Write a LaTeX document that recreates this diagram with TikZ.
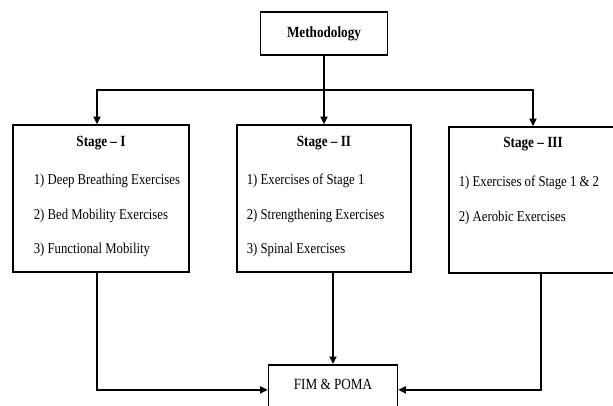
\documentclass[tikz,border=0pt]{standalone}
\usepackage{fontspec}
\setmainfont{Liberation Serif}[FakeStretch=0.85]
\usetikzlibrary{arrows.meta}

\tikzset{
	box/.style={draw, rectangle, inner sep=0pt},
	title/.style={font=\bfseries\fontsize{15.5}{18}\selectfont},
	items/.style={anchor=north west, align=left, inner sep=0pt, font=\fontsize{15}{34.5}\selectfont}
}

\begin{document}
\begin{tikzpicture}[x=1pt, y=-1pt, line width=1.7pt, >={Triangle[width=7pt,length=7.5pt]}]
	\useasboundingbox (0,0) rectangle (613,405);
	\clip (0,0) rectangle (613,405);

	\node[box, title, minimum width=127pt, minimum height=43pt] (meth) at (324,33.5) {Methodology};

	\node[box, minimum width=176pt, minimum height=147pt] (s1) at (101,198.5) {};
	\node[box, minimum width=174pt, minimum height=147pt] (s2) at (324,198.5) {};
	\node[box, minimum width=168pt, minimum height=146pt] (s3) at (533,200) {};
	\node[box, minimum width=129pt, minimum height=50pt, anchor=north] (fim) at (333,364) {};

	\node[title] (s1t) at (101,143) {Stage -- I};
	\node[title] (s2t) at (324,143) {Stage -- II};
	\node[title] (s3t) at (533,144) {Stage -- III};

	\node[items] (s1l) at (33,173.5) {1) Deep Breathing Exercises\\2) Bed Mobility Exercises\\3) Functional Mobility};
	\node[items] (s2l) at (246,173.5) {1) Exercises of Stage 1\\2) Strengthening Exercises\\3) Spinal Exercises};
	\node[items] (s3l) at (458,175.5) {1) Exercises of Stage 1 \& 2\\2) Aerobic Exercises};

	\node[font=\fontsize{15.5}{18}\selectfont] (fimt) at ([yshift=5pt]fim.center) {FIM \& POMA};

	\coordinate (split) at (324,90);
	\draw (meth.south) -- (split);
	\draw[->] (split) -| ([xshift=-4pt]s1.north);
	\draw[->] (split) -- (s2.north);
	\draw[->] (split) -| (s3.north);

	\draw[->] ([xshift=-4pt]s1.south) |- (fim.west);
	\draw[->] ([xshift=9pt]s2.south) -- (fim.north);
	\draw[->] ([xshift=8pt]s3.south) |- (fim.east);
\end{tikzpicture}
\end{document}
